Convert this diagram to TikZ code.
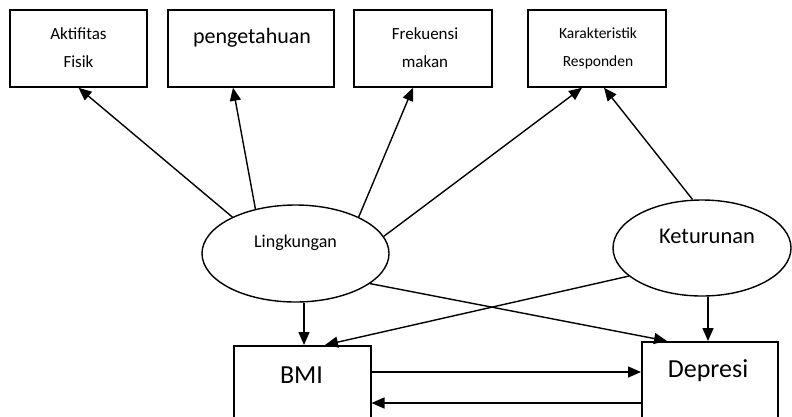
\documentclass[tikz,border=0pt]{standalone}
\usepackage{fontspec}
\setmainfont{Carlito}
\usetikzlibrary{arrows.meta,shapes.geometric}
\tikzset{
  topbox/.style={draw,line width=1.5pt,rectangle,inner sep=0pt},
  bigbox/.style={draw,line width=1.5pt,rectangle,inner sep=0pt,minimum width=137pt,minimum height=80pt,anchor=north west},
  oval/.style={draw,line width=1.4pt,ellipse,inner sep=0pt},
  arr/.style={line width=1.4pt,-{Triangle[length=13pt,width=11pt]}},
  smalltxt/.style={align=center,font=\fontsize{17}{28}\selectfont,inner sep=0pt},
}
\begin{document}
\begin{tikzpicture}[x=1pt,y=-1pt]
\path[use as bounding box] (0,0) rectangle (792,416);
\clip (0,0) rectangle (792,416);
% top boxes
\node[topbox,minimum width=137pt,minimum height=77pt] (akt) at (78.5,48.5) {};
\node[topbox,minimum width=166pt,minimum height=77pt] (pen) at (251,48.5) {};
\node[topbox,minimum width=138pt,minimum height=77pt] (frek) at (423,48.5) {};
\node[topbox,minimum width=138pt,minimum height=77pt] (kar) at (597,48.5) {};
\node[smalltxt] (aktt) at (78.5,48) {Aktifitas\\Fisik};
\node[inner sep=0pt,anchor=base,font=\fontsize{22}{26}\selectfont] (pent) at (252,43) {pengetahuan};
\node[smalltxt] (frekt) at (425,48) {Frekuensi\\makan};
\node[smalltxt,font=\fontsize{15.5}{28}\selectfont] (kart) at (598,48) {Karakteristik\\Responden};
% ellipses
\node[oval,minimum width=187pt,minimum height=97pt] (lk) at (295.5,253.5) {};
\node[inner sep=0pt,anchor=base,font=\fontsize{18}{22}\selectfont] (lkt) at (295.5,247) {Lingkungan};
\node[oval,minimum width=178pt,minimum height=96pt] (ket) at (702,248) {};
\node[inner sep=0pt,anchor=base,font=\fontsize{22.5}{26}\selectfont] (kett) at (707,243) {Keturunan};
% bottom boxes
\node[bigbox] (bmi) at (233,345) {};
\node[inner sep=0pt,anchor=base,font=\fontsize{26}{30}\selectfont] (bmit) at (301.5,383) {BMI};
\node[bigbox,minimum width=136pt] (dep) at (641,341) {};
\node[inner sep=0pt,anchor=base,font=\fontsize{26}{30}\selectfont] (dept) at (708,377) {Depresi};
% arrows from Lingkungan
\draw[arr] (lk.150.9) -- (akt.south);
\draw[arr] (lk.132.4) -- (akt.south -| 233,0);
\draw[arr] (lk.30.7) -- (frek.south -| 413,0);
\draw[arr] (lk.11.9) -- (kar.south -| 582,0);
\draw[arr] (lk.south -| 304,0) -- (bmi.north -| 304,0);
\draw[arr] (lk.-22.9) -- (dep.north -| 667,0);
% arrows from Keturunan
\draw[arr] (ket.101.5) -- (kar.south -| 604,0);
\draw[arr] (ket.201.4) -- (bmi.north -| 325,0);
\draw[arr] (ket.south -| 708,0) -- (dep.north -| 708,0);
% between BMI and Depresi
\draw[arr] (bmi.east |- 0,372) -- (dep.west |- 0,372);
\draw[arr] (dep.west |- 0,403) -- (bmi.east |- 0,403);
\end{tikzpicture}
\end{document}
